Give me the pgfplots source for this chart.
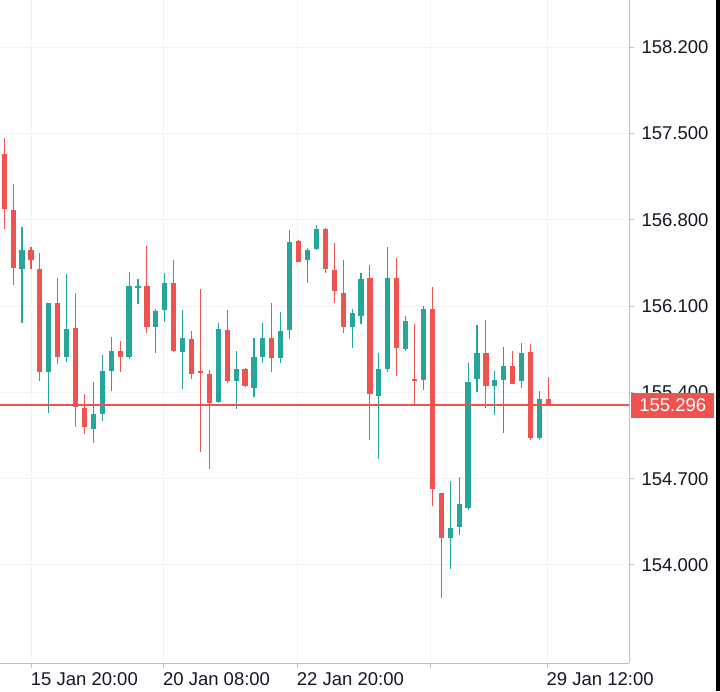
\documentclass[border=0pt]{standalone}
\usepackage{pgfplots}
\pgfplotsset{compat=1.18}
\usepackage{pgfplotstable}
\usepackage{fontspec}
\setmainfont{Liberation Sans}
\definecolor{cRed}{RGB}{239,83,80}
\definecolor{cTeal}{RGB}{38,166,154}
\definecolor{cGrid}{RGB}{240,243,250}
\definecolor{cAxis}{RGB}{190,192,198}
\definecolor{cText}{RGB}{19,23,34}

% falling candles (close < open)
\pgfplotstableread{
x o h l c
0 157.333 157.463 156.725 156.887
1 156.879 157.090 156.271 156.409
3 156.555 156.579 156.401 156.474
4 156.401 156.530 155.492 155.565
6 156.125 156.328 155.630 155.687
8 155.922 156.206 155.119 155.281
9 155.273 155.387 155.062 155.119
13 155.736 155.817 155.565 155.687
16 156.263 156.587 155.882 155.930
19 156.287 156.474 155.727 155.736
21 155.833 155.898 155.509 155.549
22 155.573 156.238 154.916 155.557
23 155.549 155.582 154.779 155.314
25 155.906 156.068 155.476 155.492
27 155.590 155.598 155.444 155.452
30 155.841 156.125 155.565 155.679
33 156.628 156.636 156.457 156.457
36 156.725 156.733 156.368 156.401
37 156.393 156.611 156.125 156.222
38 156.206 156.474 155.882 155.930
41 156.328 156.433 155.014 155.387
44 156.328 156.490 155.533 155.760
46 155.509 155.955 155.298 155.492
48 156.076 156.255 154.479 154.616
49 154.584 154.584 153.732 154.219
54 155.719 155.987 155.273 155.452
57 155.614 155.736 155.468 155.468
59 155.727 155.792 155.014 155.030
61 155.346 155.525 155.296 155.296
}\downdata

% rising candles (close > open)
\pgfplotstableread{
x o h l c
2 156.401 156.741 155.963 156.555
5 155.565 156.125 155.233 156.125
7 155.687 156.360 155.646 155.914
10 155.103 155.484 154.989 155.225
11 155.225 155.703 155.168 155.573
12 155.573 155.849 155.411 155.736
14 155.687 156.376 155.671 156.263
15 156.247 156.320 156.117 156.263
17 155.930 156.076 155.719 156.060
18 156.068 156.368 155.971 156.287
20 155.727 156.068 155.427 155.841
24 155.322 155.963 155.314 155.914
26 155.492 155.736 155.265 155.590
28 155.435 155.841 155.363 155.687
29 155.687 155.963 155.638 155.841
31 155.679 156.052 155.638 155.898
32 155.906 156.717 155.833 156.620
34 156.474 156.571 156.287 156.555
35 156.563 156.757 156.555 156.725
39 155.930 156.076 155.760 156.044
40 156.019 156.368 155.955 156.320
42 155.371 155.719 154.860 155.590
43 155.590 156.579 155.565 156.328
45 155.752 156.019 155.736 155.979
47 155.500 156.101 155.419 156.076
50 154.219 154.681 153.968 154.300
51 154.308 154.714 154.243 154.495
52 154.462 155.638 154.446 155.484
53 155.509 155.946 155.403 155.719
55 155.452 155.573 155.217 155.500
56 155.500 155.768 155.071 155.614
58 155.492 155.800 155.435 155.719
60 155.030 155.411 155.014 155.346
}\updata

\pgfplotsset{
  candlepart/.style={only marks, mark=*, mark size=0pt,
    mark options={draw=none, fill=none}, forget plot,
    error bars/.cd, y dir=both, y explicit, error mark=none},
}

\begin{document}
\begin{tikzpicture}
\useasboundingbox (0,-28pt) rectangle (720pt,663pt);
\begin{axis}[
  at={(0,0)}, anchor=south west,
  width=629pt, height=663pt, scale only axis,
  xmin=-0.47, xmax=70.04, ymin=153.205, ymax=158.582,
  axis x line*=bottom, axis y line*=right,
  axis line style={draw=cAxis, line width=1pt, -},
  xtick={3.08,17.9,32.9,47.8,60.9},
  xticklabels={15 Jan 20:00,20 Jan 08:00,22 Jan 20:00,,29 Jan 12:00},
  ytick={154,154.7,155.4,156.1,156.8,157.5,158.2},
  yticklabels={154.000,154.700,155.400,156.100,156.800,157.500,158.200},
  grid=major, major grid style={draw=cGrid, line width=1pt},
  tick align=outside, major tick length=5pt,
  tick style={draw=cAxis, line width=1pt},
  xticklabel style={anchor=north west, inner sep=0pt, yshift=-4.7pt, xshift=-1pt},
  yticklabel style={anchor=west, inner sep=0pt, xshift=7.4pt},
  ticklabel style={font=\fontsize{18.5}{20}\selectfont, text=cText},
]
% wicks
\addplot[candlepart, error bar style={line width=1.1pt, draw=cRed, solid}]
  table[x=x, y expr={(\thisrow{h}+\thisrow{l})/2},
        y error plus expr={(\thisrow{h}-\thisrow{l})/2},
        y error minus expr={(\thisrow{h}-\thisrow{l})/2}] {\downdata};
\addplot[candlepart, error bar style={line width=1.1pt, draw=cTeal, solid}]
  table[x=x, y expr={(\thisrow{h}+\thisrow{l})/2},
        y error plus expr={(\thisrow{h}-\thisrow{l})/2},
        y error minus expr={(\thisrow{h}-\thisrow{l})/2}] {\updata};
% bodies
\addplot[candlepart, error bar style={line width=5.2pt, draw=cRed, solid, line cap=butt}]
  table[x=x, y expr={(\thisrow{o}+\thisrow{c})/2},
        y error plus expr={max(abs(\thisrow{o}-\thisrow{c})/2,0.004)},
        y error minus expr={max(abs(\thisrow{o}-\thisrow{c})/2,0.004)}] {\downdata};
\addplot[candlepart, error bar style={line width=5.2pt, draw=cTeal, solid, line cap=butt}]
  table[x=x, y expr={(\thisrow{o}+\thisrow{c})/2},
        y error plus expr={max(abs(\thisrow{o}-\thisrow{c})/2,0.004)},
        y error minus expr={max(abs(\thisrow{o}-\thisrow{c})/2,0.004)}] {\updata};
% last price line
\addplot[draw=cRed, line width=1.4pt, mark=none, forget plot] coordinates {(-0.47,155.296) (70.04,155.296)};
\coordinate (pl) at (axis cs:70.04,155.296);
\end{axis}
\node[fill=cRed, text=white, inner sep=0pt, minimum width=83pt, minimum height=25pt,
  anchor=west, font=\fontsize{18.5}{20}\selectfont] at ([xshift=2pt]pl) {155.296};
\fill[black] (716pt,-28pt) rectangle (720pt,663pt);
\end{tikzpicture}
\end{document}
